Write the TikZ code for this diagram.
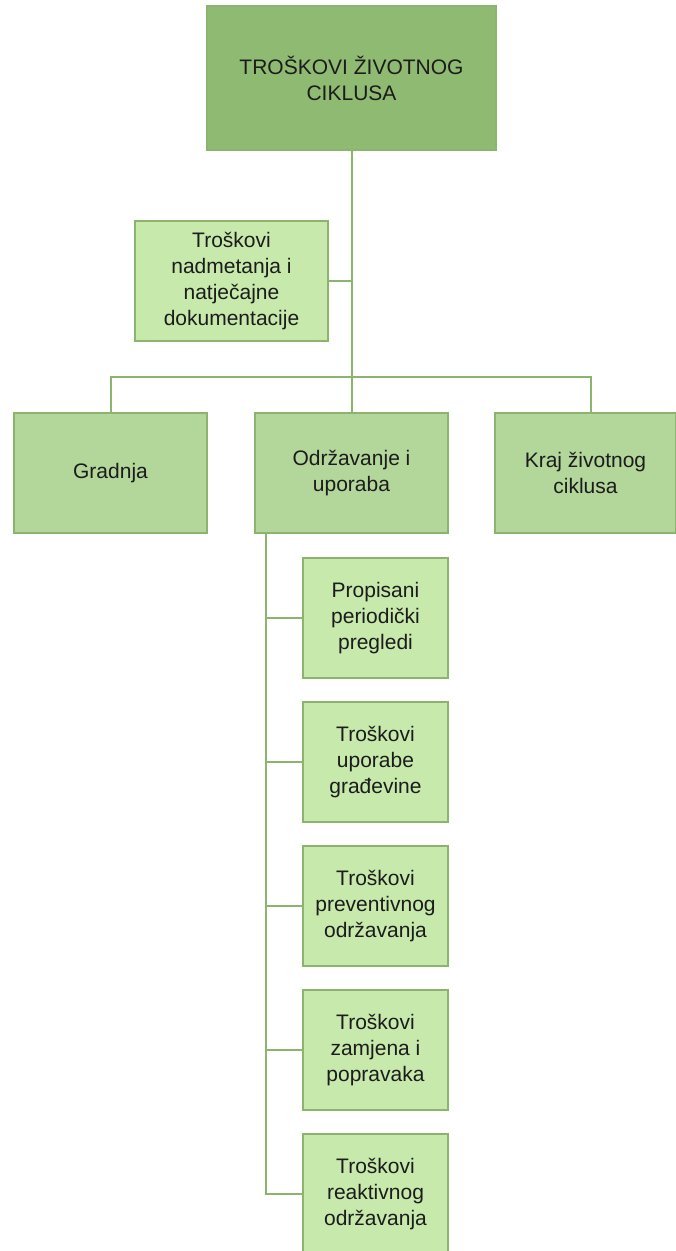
\documentclass[tikz,border=0pt]{standalone}
\usepackage{fontspec}
\setmainfont{Liberation Sans}
\usetikzlibrary{calc}
\definecolor{topgreen}{HTML}{8FBA72}
\definecolor{midgreen}{HTML}{B3D69A}
\definecolor{subgreen}{HTML}{C7E9AB}
\definecolor{edgegreen}{HTML}{8CB46E}
\definecolor{inkgray}{HTML}{1C1C1C}

\begin{document}
\begin{tikzpicture}[x=1pt,y=-1pt,line width=2pt,font=\fontsize{21}{26}\selectfont]
  \tikzstyle{box}=[draw=edgegreen,rectangle,align=center,text=inkgray,inner sep=0pt]
  \tikzstyle{topbox}=[box,fill=topgreen,minimum width=289pt,minimum height=144pt]
  \tikzstyle{midbox}=[box,fill=midgreen,minimum width=193pt,minimum height=120pt]
  \tikzstyle{subbox}=[box,fill=subgreen,minimum width=145pt,minimum height=120pt]
  \tikzstyle{link}=[draw=edgegreen,line width=2pt]
  \useasboundingbox (0,0) rectangle (676,1251);
  \fill[white] (0,0) rectangle (676,1251);

  \node[topbox] (top)    at (351.5,78)  {TROŠKOVI ŽIVOTNOG\\CIKLUSA};
  \node[subbox,minimum width=193pt] (tender) at (231.5,281)
        {Troškovi\\nadmetanja i\\natječajne\\dokumentacije};
  \node[midbox] (gradnja) at (110.5,473) {Gradnja};
  \node[midbox] (odrz)    at (351.5,473) {Održavanje i\\uporaba};
  \node[midbox,minimum width=181pt] (kraj) at (585.5,473) {Kraj životnog\\ciklusa};

  \node[subbox] (p1) at (375.5,618)  {Propisani\\periodički\\pregledi};
  \node[subbox] (p2) at (375.5,762)  {Troškovi\\uporabe\\građevine};
  \node[subbox] (p3) at (375.5,906)  {Troškovi\\preventivnog\\održavanja};
  \node[subbox] (p4) at (375.5,1050) {Troškovi\\zamjena i\\popravaka};
  \node[subbox] (p5) at (375.5,1194) {Troškovi\\reaktivnog\\održavanja};

  \coordinate (bus)   at (351.5,377);
  \coordinate (kraj top) at (591,413);
  \coordinate (trunk) at ($(odrz.south west)+(12,0)$);

  \path[link] (top.south) -- (odrz.north)
              (tender.east) -- (tender.east -| top.south)
              (gradnja.north) |- (bus) -| (kraj top);
  \foreach \p in {p1,p2,p3,p4,p5}
    \path[link] (trunk) |- (\p.west);
\end{tikzpicture}
\end{document}
